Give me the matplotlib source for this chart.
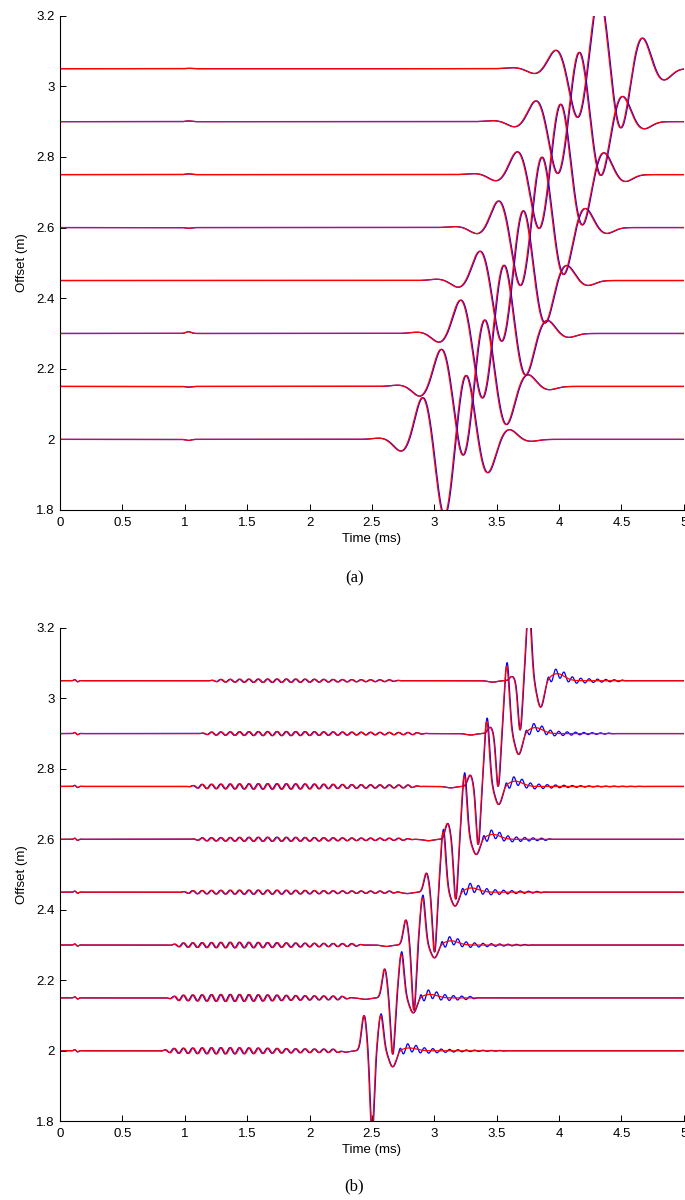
import numpy as np
import matplotlib.pyplot as plt

plt.rcParams['font.family'] = ['Liberation Sans', 'DejaVu Sans']

offsets = [2.0, 2.15, 2.3, 2.45, 2.6, 2.75, 2.9, 3.05]
x_ticks = [0, 0.5, 1, 1.5, 2, 2.5, 3, 3.5, 4, 4.5, 5]
x_labels = ['0', '0.5', '1', '1.5', '2', '2.5', '3', '3.5', '4', '4.5', '5']
y_ticks = [1.8, 2.0, 2.2, 2.4, 2.6, 2.8, 3.0, 3.2]
y_labels = ['1.8', '2', '2.2', '2.4', '2.6', '2.8', '3', '3.2']

# (a) time of the precursor lobe (ms) and lobe amplitudes (m), lobes 0.17 ms apart
a_start = [2.57, 2.72, 2.875, 3.03, 3.18, 3.33, 3.48, 3.64]
a_lobes = [
    [0.004, -0.036, 0.125, -0.225, 0.190, -0.100, 0.030, -0.006],
    [0.004, -0.030, 0.111, -0.203, 0.197, -0.114, 0.036, -0.010],
    [0.004, -0.027, 0.100, -0.191, 0.202, -0.124, 0.040, -0.012],
    [0.004, -0.021, 0.088, -0.180, 0.206, -0.127, 0.046, -0.015],
    [0.003, -0.019, 0.080, -0.172, 0.208, -0.140, 0.058, -0.018],
    [0.003, -0.019, 0.069, -0.160, 0.208, -0.150, 0.066, -0.021],
    [0.003, -0.016, 0.063, -0.154, 0.205, -0.160, 0.076, -0.022],
    [0.003, -0.015, 0.056, -0.145, 0.215, -0.176, 0.092, -0.034],
]
a_blip = [-0.003, -0.002, 0.005, 0.0, -0.002, 0.002, 0.002, 0.001]

# (b) main trough time (ms) and amplitudes of the four lobes
b_t1 = [2.50, 2.665, 2.835, 3.00, 3.17, 3.35, 3.51, 3.686]
b_p1 = [0.100, 0.082, 0.071, 0.054, 0.045, 0.032, 0.018, 0.012]
b_tr1 = [-0.235, -0.160, -0.185, -0.170, -0.170, -0.165, -0.150, -0.140]
b_p2 = [0.100, 0.125, 0.135, 0.170, 0.180, 0.185, 0.192, 0.215]
b_tr2 = [-0.046, -0.043, -0.037, -0.040, -0.044, -0.052, -0.060, -0.076]
b_hump = [0.008, 0.010, 0.012, 0.012, 0.014, 0.015, 0.017, 0.020]
b_tail_amp = [0.016, 0.017, 0.016, 0.018, 0.017, 0.017, 0.016, 0.018]
b_tail_end = [3.60, 3.35, 3.80, 3.90, 3.95, 4.70, 4.45, 4.55]
b_noise_start = [0.80, 0.85, 0.87, 0.95, 1.04, 1.02, 1.11, 1.18]
b_noise_end = [2.30, 2.35, 2.45, 2.75, 2.85, 2.90, 2.95, 2.75]
b_noise_amp = [0.009, 0.010, 0.008, 0.006, 0.006, 0.008, 0.006, 0.005]

t = np.linspace(0, 5, 6001)


def gauss(t0, s):
    return np.exp(-((t - t0) / s) ** 2)


def trace_a(k, shift):
    y = a_blip[k] * gauss(1.03, 0.03)
    for j, amp in enumerate(a_lobes[k]):
        y += amp * gauss(a_start[k] + shift + j * 0.17, 0.09)
    return y


def trace_b(k, shift, gain, blue):
    t1 = b_t1[k] + shift
    y = (b_p1[k] * gauss(t1 - 0.065, 0.028) + b_tr1[k] * gauss(t1, 0.024)
         + gain * b_p2[k] * gauss(t1 + 0.07, 0.028)
         + b_tr2[k] * gauss(t1 + 0.165, 0.04)
         + b_hump[k] * gauss(t1 + 0.30, 0.08)
         - 0.004 * gauss(t1 - 0.22, 0.05))
    # low level wiggles before the arrival
    ts, te = b_noise_start[k], b_noise_end[k]
    win = np.clip((t - ts) / 0.1, 0, 1) * np.clip((te - t) / 0.1, 0, 1)
    env = 0.5 + 0.5 * np.exp(-((t - (ts + 0.35 * (te - ts))) / (0.35 * (te - ts))) ** 2)
    ph = 0.6 if blue else 0.0
    y += b_noise_amp[k] * win * env * np.sin(2 * np.pi * t / 0.075 + ph)
    y += 0.004 * np.sin(2 * np.pi * (t - 0.1) / 0.06) * gauss(0.13, 0.025)
    if blue:
        t2 = t1 + 0.2
        on = np.clip((t - t2) / 0.03, 0, 1) * np.clip((b_tail_end[k] - t) / 0.05, 0, 1)
        y += b_tail_amp[k] * on * np.exp(-(t - t2).clip(0) / 0.3) * np.sin(2 * np.pi * (t - t2) / 0.067)
    return y


fig = plt.figure(figsize=(6.85, 12), dpi=100)
ax_a = fig.add_axes([0.0876, 0.575, 0.9106, 0.4119])
ax_b = fig.add_axes([0.0876, 0.0656, 0.9106, 0.4112])

for k, off in enumerate(offsets):
    ax_a.plot(t, off + trace_a(k, 0.006), color='blue', lw=0.9)
    ax_a.plot(t, off + trace_a(k, 0.0), color='red', lw=0.9)
    ax_b.plot(t, off + trace_b(k, 0.004, 1.05, True), color='blue', lw=0.9)
    ax_b.plot(t, off + trace_b(k, 0.0, 1.0, False), color='red', lw=0.9)

for ax, cap, cap_y in [(ax_a, '(a)', 0.518), (ax_b, '(b)', 0.011)]:
    ax.set_xlim(0, 5)
    ax.set_ylim(1.8, 3.2)
    ax.set_xticks(x_ticks)
    ax.set_xticklabels(x_labels)
    ax.set_yticks(y_ticks)
    ax.set_yticklabels(y_labels)
    ax.spines['top'].set_visible(False)
    ax.spines['right'].set_visible(False)
    ax.spines['left'].set_linewidth(0.8)
    ax.spines['bottom'].set_linewidth(0.8)
    ax.tick_params(direction='in', length=4, width=0.7, labelsize=9.5)
    ax.tick_params(axis='x', pad=5)
    ax.tick_params(axis='y', pad=4)
    ax.set_xlabel('Time (ms)', fontsize=9.5, labelpad=3)
    ax.set_ylabel('Offset (m)', fontsize=9.5, labelpad=6)
    fig.text(0.517, cap_y, cap, ha='center', va='center',
             fontsize=12, family='Liberation Serif')

fig.savefig('out.png', dpi=100)
